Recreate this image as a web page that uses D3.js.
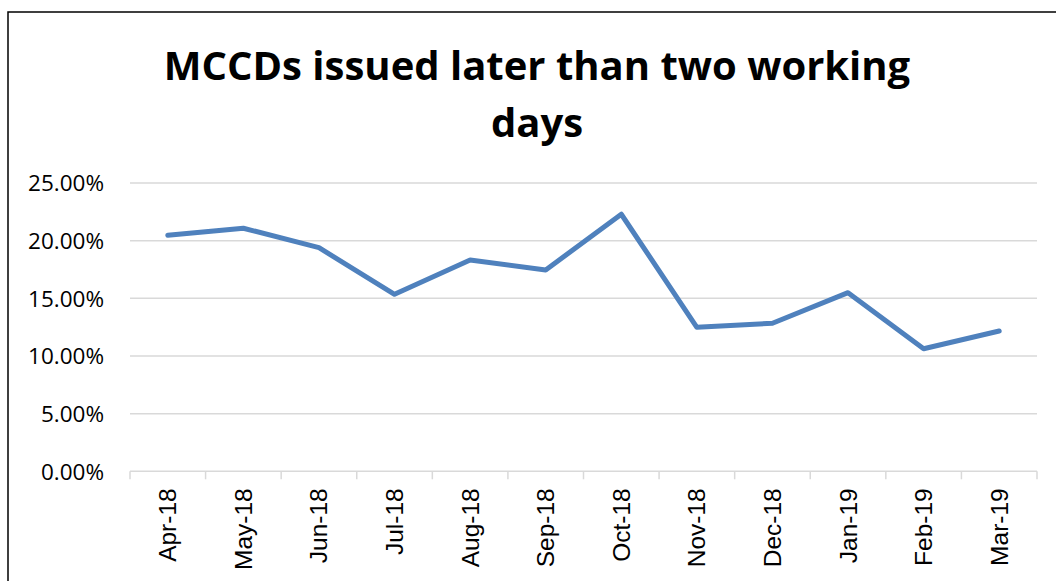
<!DOCTYPE html>
<html>
<head>
<meta charset="utf-8">
<script src="https://cdn.jsdelivr.net/npm/d3@7/dist/d3.min.js"></script>
<style>
  html, body { margin: 0; padding: 0; background: #ffffff; }
  svg { display: block; }
</style>
</head>
<body>
<svg id="chart" width="1056" height="581"></svg>
<script>
// Monthly share of MCCDs issued later than two working days
const months = ["Apr-18", "May-18", "Jun-18", "Jul-18", "Aug-18", "Sep-18",
                "Oct-18", "Nov-18", "Dec-18", "Jan-19", "Feb-19", "Mar-19"];
const lateShare = [20.47, 21.08, 19.39, 15.35, 18.33, 17.46,
                   22.29, 12.49, 12.84, 15.49, 10.63, 12.17];
const yTicks = [0, 5, 10, 15, 20, 25];
const titleLines = ["MCCDs issued later than two working", "days"];

const width = 1056, height = 581;
const plot = { left: 130, right: 1037, top: 183, bottom: 471.3 };

const svg = d3.select("#chart");

// outer frame of the chart area
svg.append("rect")
  .attr("x", 8).attr("y", 12)
  .attr("width", 1070).attr("height", 600)
  .attr("fill", "#ffffff")
  .attr("stroke", "#000000")
  .attr("stroke-width", 1.5);

const x = d3.scaleBand()
  .domain(months)
  .range([plot.left, plot.right])
  .paddingInner(0).paddingOuter(0);

const y = d3.scaleLinear()
  .domain([0, 25])
  .range([plot.bottom, plot.top]);

// title
svg.append("text")
  .attr("x", 537)
  .attr("text-anchor", "middle")
  .attr("font-family", "'Open Sans', sans-serif")
  .attr("font-weight", "bold")
  .attr("font-size", 40)
  .attr("fill", "#000000")
  .selectAll("tspan")
  .data(titleLines)
  .join("tspan")
  .attr("x", 537)
  .attr("y", (d, i) => 80 + i * 57)
  .text(d => d);

// horizontal gridlines
svg.append("g")
  .selectAll("line")
  .data(yTicks.filter(t => t > 0))
  .join("line")
  .attr("x1", plot.left).attr("x2", plot.right)
  .attr("y1", d => y(d)).attr("y2", d => y(d))
  .attr("stroke", "#d9d9d9")
  .attr("stroke-width", 1.5);

// y axis labels
const yAxis = d3.axisLeft(y)
  .tickValues(yTicks)
  .tickSize(0)
  .tickPadding(0)
  .tickFormat(d => d.toFixed(2) + "%");

const gy = svg.append("g")
  .attr("transform", `translate(${plot.left - 26},0)`)
  .call(yAxis);
gy.select(".domain").remove();
gy.selectAll("text")
  .attr("font-family", "'Open Sans', sans-serif")
  .attr("font-size", 22.5)
  .attr("fill", "#000000")
  .attr("dy", "0.35em");

// category axis with boundary tick marks
const gx = svg.append("g")
  .attr("transform", `translate(0,${plot.bottom})`);
gx.append("line")
  .attr("x1", plot.left).attr("x2", plot.right)
  .attr("y1", 0).attr("y2", 0)
  .attr("stroke", "#d9d9d9")
  .attr("stroke-width", 1.5);
const boundaries = months.map(m => x(m)).concat([x(months[months.length - 1]) + x.bandwidth()]);
gx.selectAll("line.tick")
  .data(boundaries)
  .join("line")
  .attr("class", "tick")
  .attr("x1", d => d).attr("x2", d => d)
  .attr("y1", 0).attr("y2", 8)
  .attr("stroke", "#d9d9d9")
  .attr("stroke-width", 1.5);

gx.selectAll("text")
  .data(months)
  .join("text")
  .attr("transform", d => `translate(${x(d) + x.bandwidth() / 2 + 8.5},17) rotate(-90)`)
  .attr("text-anchor", "end")
  .attr("font-family", "'Liberation Sans', Arial, sans-serif")
  .attr("font-size", 24.5)
  .attr("fill", "#000000")
  .text(d => d);

// data line
const line = d3.line()
  .x((d, i) => x(months[i]) + x.bandwidth() / 2)
  .y(d => y(d));

svg.append("path")
  .datum(lateShare)
  .attr("d", line)
  .attr("fill", "none")
  .attr("stroke", "#4f81bd")
  .attr("stroke-width", 5)
  .attr("stroke-linejoin", "round")
  .attr("stroke-linecap", "round");
</script>
</body>
</html>
